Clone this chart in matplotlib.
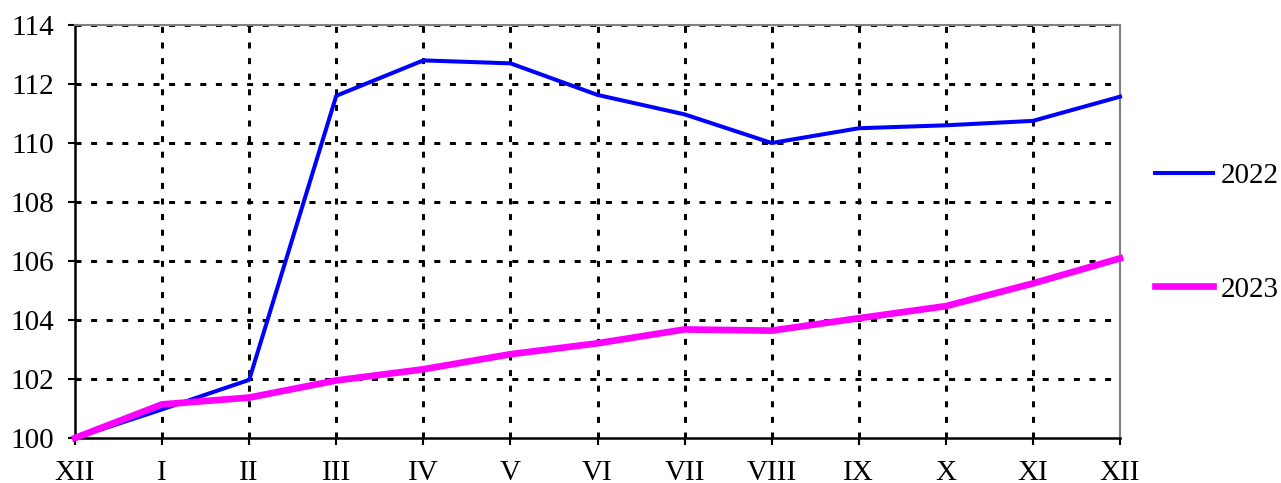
import matplotlib
matplotlib.use("Agg")
import matplotlib.pyplot as plt

months = ["XII", "I", "II", "III", "IV", "V", "VI", "VII", "VIII", "IX", "X", "XI", "XII"]
s2022 = [100.0, 100.97, 101.97, 111.6, 112.8, 112.7, 111.63, 110.97, 110.0, 110.5, 110.6, 110.75, 111.57]
s2023 = [100.0, 101.14, 101.37, 101.95, 102.33, 102.84, 103.21, 103.68, 103.64, 104.06, 104.47, 105.24, 106.09]
yticks = [100, 102, 104, 106, 108, 110, 112, 114]

plt.rcParams['font.family'] = ['Liberation Serif', 'DejaVu Serif']
fig = plt.figure(figsize=(12.81, 4.83), dpi=100)
ax = fig.add_axes([75/1281, 1 - 438/483, (1120-75)/1281, (438-25)/483])

x = list(range(len(months)))
ax.plot(x, s2022, color='#0000ff', lw=2.9, label='2022', zorder=3, clip_on=False)
ax.plot(x, s2023, color='#ff00ff', lw=4.8, label='2023', zorder=4, clip_on=False)

ax.set_xlim(0, len(months) - 1)
ax.set_ylim(100, 114)
ax.set_xticks(x)
ax.set_xticklabels(months)
ax.set_yticks(yticks)
ax.tick_params(axis='both', labelsize=21, direction='out', length=5, width=1.5, color='black')
ax.tick_params(axis='x', pad=10.5)
ax.tick_params(axis='y', pad=10)

ax.grid(True, color='black', linestyle=(0, (2, 3.2)), linewidth=2.16, zorder=1)
ax.set_axisbelow(True)
xg = ax.xaxis.get_gridlines()
xg[0].set_visible(False)
xg[-1].set_visible(False)
ax.yaxis.get_gridlines()[0].set_visible(False)
for s in ['left', 'bottom']:
    ax.spines[s].set_color('black')
    ax.spines[s].set_linewidth(1.8)
for s in ['top', 'right']:
    ax.spines[s].set_color('#808080')
    ax.spines[s].set_linewidth(1.5)

leg = fig.legend(loc='center left', bbox_to_anchor=(1155/1281, 1 - 232.5/483), frameon=False,
                 fontsize=21, handlelength=2.0, handletextpad=0.25, labelspacing=3.0,
                 borderpad=0, borderaxespad=0)

fig.savefig('out.png', dpi=100)
